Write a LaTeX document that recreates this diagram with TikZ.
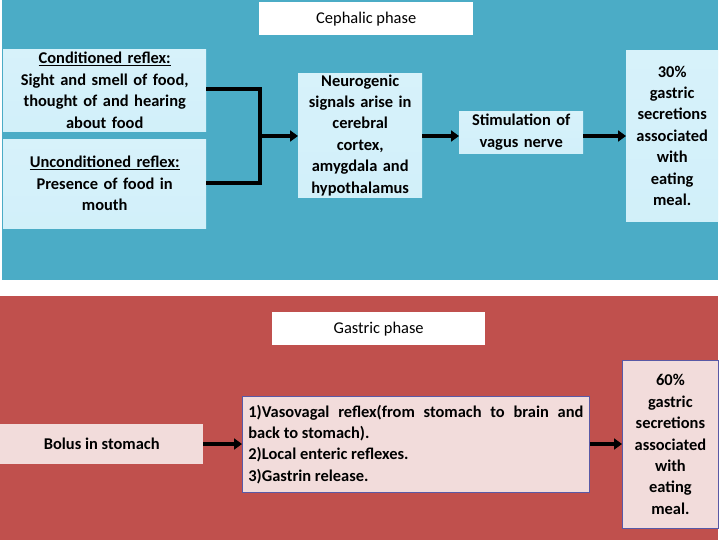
\documentclass[tikz,border=0pt]{standalone}
\usepackage{fontspec}
\setmainfont{Carlito}
\usetikzlibrary{arrows.meta}
\definecolor{pblue}{HTML}{4BACC6}
\definecolor{pred}{HTML}{C0504D}
\definecolor{pink}{HTML}{F2DCDB}
\definecolor{lblue}{HTML}{C6ECF8}
\begin{document}
\begin{tikzpicture}[x=1bp,y=-1bp,
  font=\fontsize{16.5}{21.5}\selectfont\bfseries,
  box/.style={draw=none,inner sep=1pt,align=center,anchor=north west},
  bl/.style={box,top color=white!30!lblue,bottom color=lblue!80!white},
  wt/.style={box,fill=white},
  pk/.style={box,fill=pink,draw=gray!70!blue,line width=0.8pt},
  arr/.style={line width=3.5pt,-{Triangle[length=8pt,width=11pt]}},
  ln/.style={line width=3.5pt}]
\useasboundingbox (0,0) rectangle (720,540);
\fill[white] (0,0) rectangle (720,540);
\fill[pblue] (2,0) rectangle (718,280);
\fill[pred] (0,296) rectangle (718,540);
\node[wt,minimum width=214bp,minimum height=33bp] (ceph) at (259,2) {\mdseries Cephalic phase};
\node[bl,minimum width=203bp,minimum height=82bp,text width=201bp] (cond) at (3,49) {\underline{Conditioned reflex:}\\Sight and smell of food,\\thought of and hearing\\about food};
\node[bl,minimum width=203bp,minimum height=89bp,text width=201bp] (unc) at (3,139) {\underline{Unconditioned reflex:}\\Presence of food in\\mouth};
\node[bl,minimum width=124bp,minimum height=124bp,text width=122bp] (neur) at (298,73) {Neurogenic\\signals arise in\\cerebral\\cortex,\\amygdala and\\hypothalamus};
\node[bl,minimum width=124bp,minimum height=42bp,text width=122bp] (stim) at (459,111) {Stimulation of\\vagus nerve};
\node[bl,minimum width=92bp,minimum height=171bp,text width=90bp] (p30) at (626,50) {30\%\\gastric\\secretions\\associated\\with\\eating\\meal.};
\coordinate (j1) at (260,89);
\coordinate (j2) at (260,183);
\coordinate (jm) at (260,136);
\draw[ln] (cond.east|-j1) -- (j1) -- (j2) -- (unc.east|-j2);
\draw[arr] (jm) -- (neur.west|-jm);
\draw[arr] (neur.east|-jm) -- (stim.west|-jm);
\draw[arr] (stim.east|-jm) -- (p30.west|-jm);
\node[wt,minimum width=213bp,minimum height=33bp] (gast) at (272,312) {\mdseries Gastric phase};
\node[box,fill=pink,minimum width=203bp,minimum height=40bp] (bol) at (0,424) {Bolus in stomach};
\node[pk,minimum width=347bp,minimum height=96bp,text width=335bp,align=justify,inner sep=4pt] (list) at (242,396) {1)Vasovagal reflex(from stomach to brain and back to stomach).\\2)Local enteric reflexes.\\3)Gastrin release.};
\node[pk,minimum width=96bp,minimum height=168bp,text width=92bp] (p60) at (622,360) {60\%\\gastric\\secretions\\associated\\with\\eating\\meal.};
\coordinate (k) at (0,444);
\draw[arr] (bol.east|-k) -- (list.west|-k);
\draw[arr] (list.east|-k) -- (p60.west|-k);
\end{tikzpicture}
\end{document}
